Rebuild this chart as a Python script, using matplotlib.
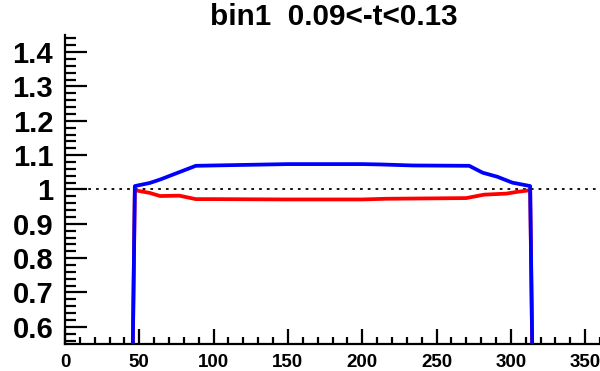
import matplotlib
matplotlib.use("Agg")
import matplotlib.pyplot as plt
from matplotlib.ticker import MultipleLocator, FuncFormatter

title = "bin1  0.09<-t<0.13"

x_blue = [44, 47, 57, 64, 76, 88, 100, 125, 150, 175, 200, 212, 234, 272, 281, 291, 301, 313, 316]
y_blue = [0.0, 1.010, 1.019, 1.029, 1.049, 1.069, 1.070, 1.072, 1.074, 1.074, 1.074, 1.073, 1.070, 1.069,
          1.049, 1.037, 1.020, 1.010, 0.0]

x_red = [44, 47, 57, 64, 77, 88, 100, 150, 200, 216, 270, 282, 297, 304, 313, 316]
y_red = [0.0, 0.998, 0.990, 0.981, 0.982, 0.972, 0.972, 0.971, 0.971, 0.973, 0.975, 0.985, 0.988,
         0.993, 0.998, 0.0]

ref_level = 1.0

fig = plt.figure(figsize=(6.0, 3.71), dpi=100)
ax = fig.add_axes([65/600, 1-344/371, 535/600, (344-35)/371])

ax.axhline(ref_level, color="black", lw=1.3, linestyle=(0, (1.5, 2.8)), zorder=1)
ax.plot(x_red, y_red, color="#ff0000", lw=2.7, zorder=2)
ax.plot(x_blue, y_blue, color="#0000ff", lw=2.7, zorder=3)

ax.set_xlim(0, 360)
ax.set_ylim(0.55, 1.45)

for s in ["top", "right"]:
    ax.spines[s].set_visible(False)
for s in ["left", "bottom"]:
    ax.spines[s].set_linewidth(1.6)

ax.xaxis.set_major_locator(MultipleLocator(50))
ax.xaxis.set_minor_locator(MultipleLocator(10))
ax.yaxis.set_major_locator(MultipleLocator(0.1))
ax.yaxis.set_minor_locator(MultipleLocator(0.02))
ax.yaxis.set_major_formatter(FuncFormatter(lambda v, p: "%g" % round(v, 2)))

ax.tick_params(axis="y", which="major", direction="in", length=16, width=1.6, pad=8.5,
               labelsize=21)
ax.tick_params(axis="y", which="minor", direction="in", length=8, width=1.6)
ax.tick_params(axis="x", which="major", direction="in", length=11, width=1.6, pad=7,
               labelsize=13.5)
ax.tick_params(axis="x", which="minor", direction="in", length=5, width=1.6)

for lab in ax.get_xticklabels() + ax.get_yticklabels():
    lab.set_fontfamily("Liberation Sans")
    lab.set_fontweight("bold")

fig.text(334/600, 1-17/371, title, ha="center", va="center", fontsize=21.3,
         fontweight="bold", family="Liberation Sans")

fig.savefig("out.png", dpi=100)
